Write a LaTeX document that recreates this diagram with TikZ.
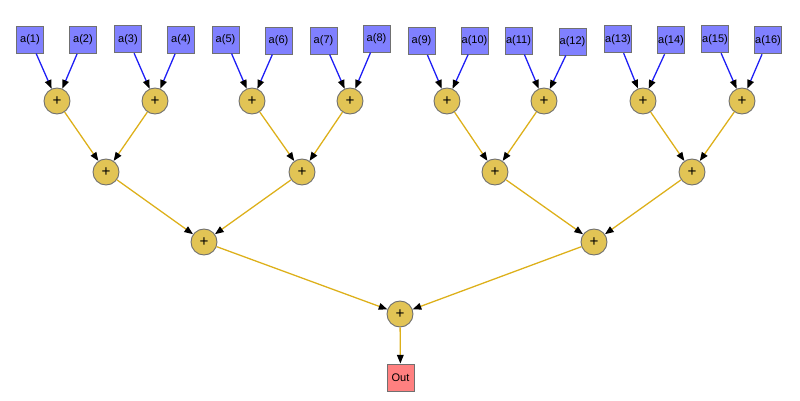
\documentclass[tikz,border=0pt]{standalone}
\usepackage{fontspec}
\setmainfont{Liberation Sans}
\usetikzlibrary{arrows.meta}
\definecolor{leafblue}{HTML}{8080FF}
\definecolor{edgeblue}{HTML}{1E1EF5}
\definecolor{addgold}{HTML}{E2C455}
\definecolor{edgegold}{HTML}{DDB01A}
\definecolor{outred}{HTML}{FF8080}
\definecolor{rim}{HTML}{707070}
\tikzset{
  leaf/.style={draw=rim,line width=0.8pt,fill=leafblue,minimum width=8.1mm,minimum height=8.1mm,inner sep=0pt},
  adder/.style={circle,draw=rim,line width=0.8pt,fill=addgold,minimum size=7.8mm,inner sep=0pt,font=\fontsize{13}{14}\selectfont},
  result/.style={draw=rim,line width=0.8pt,fill=outred,minimum width=8.1mm,minimum height=8.1mm,inner sep=0pt},
  tip/.style={-{Triangle[black,length=2.6mm,width=2mm]}},
  bluearrow/.style={tip,draw=edgeblue,line width=1.1pt},
  goldarrow/.style={tip,draw=edgegold,line width=1.1pt}
}
\begin{document}
\begin{tikzpicture}[x=0.3mm,y=-0.3mm,every node/.style={font=\fontsize{9.4}{11}\selectfont}]
\useasboundingbox (0,0) rectangle (800,400);
% Inputs
\foreach \i/\x/\y in {1/30/39.5,2/83/40,3/128/39.2,4/181/40,5/225.5/39.5,6/278.5/40.5,7/323.5/40.5,8/376.5/38.5,
  9/421.5/41,10/474.5/40.5,11/518.5/40.5,12/572.5/41.5,13/618/39.2,14/671/40.3,15/715/39.2,16/768/40.3}
  \node[leaf] (a\i) at (\x,\y) {a(\i)};
% Adder tree
\foreach \i/\x in {1/57,2/155,3/252,4/350,5/447,6/544,7/643,8/742}
  \node[adder] (b\i) at (\x,101) {+};
\foreach \i/\x in {1/106,2/302,3/495,4/692}
  \node[adder] (c\i) at (\x,172) {+};
\node[adder] (d1) at (204,242) {+};
\node[adder] (d2) at (594,242) {+};
\node[adder] (e1) at (400,314) {+};
\node[result] (out) at (400.5,377.5) {Out};
% Connections
\foreach \i in {1,...,8} {
  \pgfmathtruncatemacro{\l}{2*\i-1}
  \pgfmathtruncatemacro{\r}{2*\i}
  \draw[bluearrow] (a\l) -- (b\i);
  \draw[bluearrow] (a\r) -- (b\i);
}
\foreach \i in {1,...,4} {
  \pgfmathtruncatemacro{\l}{2*\i-1}
  \pgfmathtruncatemacro{\r}{2*\i}
  \draw[goldarrow] (b\l) -- (c\i);
  \draw[goldarrow] (b\r) -- (c\i);
}
\foreach \i in {1,2} {
  \pgfmathtruncatemacro{\l}{2*\i-1}
  \pgfmathtruncatemacro{\r}{2*\i}
  \draw[goldarrow] (c\l) -- (d\i);
  \draw[goldarrow] (c\r) -- (d\i);
}
\draw[goldarrow] (d1) -- (e1);
\draw[goldarrow] (d2) -- (e1);
\draw[goldarrow] (e1) -- (out);
\end{tikzpicture}
\end{document}
